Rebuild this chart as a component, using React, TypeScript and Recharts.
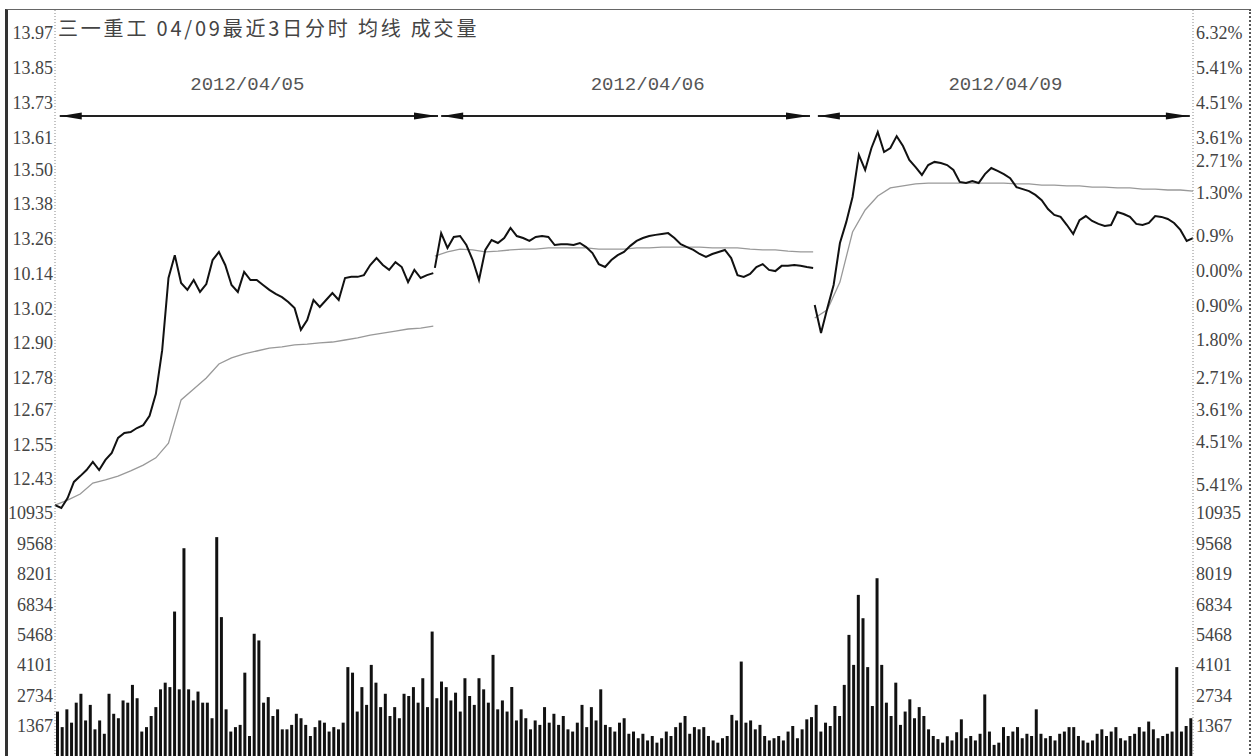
import { ComposedChart, Line, Bar, XAxis, YAxis, ReferenceLine, ReferenceDot } from 'recharts';

const title = '三一重工 04/09最近3日分时 均线 成交量';
const dayLabels = ['2012/04/05', '2012/04/06', '2012/04/09'];

// price every 4 minutes, average every 8 minutes, volume every 3 minutes
const day1Price = [
  12.340, 12.330, 12.364, 12.420, 12.440, 12.461, 12.489, 12.461, 12.496, 12.520,
  12.572, 12.589, 12.592, 12.606, 12.616, 12.648, 12.724, 12.875, 13.124, 13.203,
  13.107, 13.083, 13.117, 13.076, 13.103, 13.186, 13.214, 13.169, 13.100, 13.076,
  13.145, 13.117, 13.117, 13.100, 13.083, 13.069, 13.058, 13.041, 13.020, 12.945,
  12.979, 13.048, 13.024, 13.048, 13.072, 13.048, 13.124, 13.128, 13.128, 13.134,
  13.169, 13.193, 13.169, 13.152, 13.179, 13.162, 13.110, 13.152, 13.124, 13.134,
  13.141,
];
const day2Price = [
  13.159, 13.279, 13.228, 13.266, 13.269, 13.238, 13.186, 13.117, 13.221, 13.255,
  13.245, 13.262, 13.297, 13.269, 13.262, 13.252, 13.266, 13.269, 13.266, 13.238,
  13.241, 13.241, 13.238, 13.245, 13.231, 13.210, 13.172, 13.162, 13.186, 13.203,
  13.214, 13.235, 13.252, 13.262, 13.269, 13.273, 13.276, 13.279, 13.262, 13.241,
  13.231, 13.221, 13.207, 13.197, 13.207, 13.214, 13.221, 13.193, 13.134, 13.128,
  13.138, 13.162, 13.172, 13.152, 13.148, 13.166, 13.166, 13.169, 13.166, 13.162,
  13.159,
];
const day3Price = [
  13.031, 12.934, 13.020, 13.100, 13.245, 13.317, 13.404, 13.549, 13.497, 13.573,
  13.628, 13.559, 13.573, 13.614, 13.580, 13.532, 13.507, 13.480, 13.514, 13.525,
  13.521, 13.514, 13.497, 13.456, 13.452, 13.459, 13.452, 13.483, 13.504, 13.494,
  13.483, 13.469, 13.438, 13.431, 13.424, 13.411, 13.393, 13.362, 13.342, 13.335,
  13.307, 13.276, 13.324, 13.338, 13.321, 13.311, 13.304, 13.307, 13.352, 13.345,
  13.335, 13.311, 13.307, 13.314, 13.338, 13.335, 13.328, 13.314, 13.290, 13.252,
  13.262,
];

const day1Avg = [
  12.340, 12.357, 12.378, 12.416, 12.427, 12.440, 12.458, 12.478, 12.503, 12.554,
  12.703, 12.741, 12.779, 12.827, 12.848, 12.862, 12.872, 12.882, 12.886, 12.893,
  12.896, 12.900, 12.903, 12.910, 12.917, 12.927, 12.934, 12.941, 12.948, 12.951,
  12.958,
];
const day2Avg = [
  13.200, 13.214, 13.224, 13.221, 13.214, 13.217, 13.221, 13.224, 13.224, 13.228,
  13.228, 13.228, 13.228, 13.224, 13.224, 13.224, 13.228, 13.228, 13.231, 13.231,
  13.231, 13.231, 13.228, 13.228, 13.228, 13.224, 13.221, 13.221, 13.217, 13.214,
  13.214,
];
const day3Avg = [
  12.986, 13.014, 13.110, 13.283, 13.359, 13.407, 13.435, 13.442, 13.449, 13.452,
  13.452, 13.452, 13.452, 13.452, 13.452, 13.452, 13.449, 13.449, 13.445, 13.445,
  13.442, 13.442, 13.438, 13.438, 13.435, 13.435, 13.431, 13.431, 13.428, 13.428,
  13.424,
];

const day1Vol = [
  2000, 1300, 2100, 1500, 2400, 2800, 1600, 2300, 1200, 1600,
  1000, 2800, 1900, 1700, 2500, 2400, 3200, 2600, 1100, 1300,
  1800, 2200, 3000, 3300, 3100, 6500, 3000, 9350, 3000, 2500,
  2900, 2400, 2400, 1700, 9850, 6250, 2100, 1100, 1300, 1400,
  3750, 900, 5500, 5200, 2400, 2650, 1800, 2100, 1200, 1200,
  1400, 1900, 1700, 1400, 900, 1300, 1600, 1500, 1100, 1300,
  1200, 1500, 4000, 3750, 2000, 3100, 2300, 4100, 3300, 2200,
  2800, 1800, 2200, 1700, 2800, 2700, 3100, 2400, 3500, 2200,
  5600,
];
const day2Vol = [
  2600, 3350, 3100, 2500, 2850, 2000, 3500, 2700, 2300, 3500,
  3000, 2400, 4550, 2100, 2500, 2000, 3100, 1600, 2100, 1700,
  1200, 1600, 1400, 2200, 1500, 1900, 1400, 1800, 1200, 1100,
  1500, 2300, 1300, 2200, 1600, 3000, 1400, 1300, 1100, 1500,
  1700, 1000, 1100, 800, 1000, 700, 900, 600, 800, 1100,
  900, 1300, 1500, 1800, 1000, 1300, 1200, 1300, 900, 700,
  600, 800, 900, 1850, 1600, 4250, 1500, 1600, 1200, 1400,
  900, 700, 800, 900, 700, 1100, 1350, 800, 1200, 1650,
  1750,
];
const day3Vol = [
  2300, 1100, 1500, 1350, 2250, 1800, 3200, 5450, 4100, 7250,
  6200, 4000, 2250, 8000, 4100, 2400, 1800, 3300, 1400, 2000,
  2550, 1700, 2200, 1800, 1200, 900, 760, 600, 890, 700,
  1070, 1650, 800, 900, 700, 1000, 2770, 1100, 500, 600,
  1300, 900, 1100, 1300, 800, 1000, 900, 2100, 1000, 800,
  900, 700, 1000, 1100, 1300, 1300, 900, 700, 600, 700,
  1000, 1200, 900, 1100, 1300, 800, 700, 900, 1000, 1300,
  1100, 1550, 1200, 800, 900, 1000, 1100, 4000, 1100, 1350,
  1700,
];

const priceTicks = [13.97, 13.85, 13.73, 13.61, 13.50, 13.38, 13.26, 13.14, 13.02, 12.90, 12.78, 12.67, 12.55, 12.43];
const priceLabels = ['13.97', '13.85', '13.73', '13.61', '13.50', '13.38', '13.26', '10.14', '13.02', '12.90', '12.78', '12.67', '12.55', '12.43'];
const pctTicks = [13.97, 13.85, 13.73, 13.61, 13.53, 13.42, 13.27, 13.15, 13.03, 12.91, 12.78, 12.67, 12.56, 12.41];
const pctLabels = ['6.32%', '5.41%', '4.51%', '3.61%', '2.71%', '1.30%', '0.9%', '0.00%', '0.90%', '1.80%', '2.71%', '3.61%', '4.51%', '5.41%'];
const volTicks = [10935, 9568, 8201, 6834, 5468, 4101, 2734, 1367];
const volLabelsLeft = ['10935', '9568', '8201', '6834', '5468', '4101', '2734', '1367'];
const volLabelsRight = ['10935', '9568', '8019', '6834', '5468', '4101', '2734', '1367'];

// arrow spans and date label spots, in minutes / price
const arrowSpans = [[3, 243], [245, 479], [484, 720]];
const dateSpots = [122, 376, 603];
const arrowPrice = 13.6835;
const datePrice = 13.79;

const MIN_PER_DAY = 241;
const priceDomain = [12.3126, 14.0495];

const prices = [day1Price, day2Price, day3Price];
const avgs = [day1Avg, day2Avg, day3Avg];
const vols = [day1Vol, day2Vol, day3Vol];

const priceRows: any[] = [];
prices.forEach((arr, d) => {
  arr.forEach((v, k) => {
    const row: any = { t: d * MIN_PER_DAY + k * 4 };
    row['p' + d] = v;
    if (k % 2 === 0) row['a' + d] = avgs[d][k / 2];
    priceRows.push(row);
  });
});

const volRows: any[] = [];
vols.forEach((arr, d) => {
  arr.forEach((v, k) => volRows.push({ t: d * MIN_PER_DAY + k * 3, v }));
});

const tickStyle = { fontFamily: 'Liberation Serif', fontSize: 18, fill: '#444' };
const dotAxis = { stroke: '#888', strokeDasharray: '1 2' };

const pick = (ticks: number[], labels: string[]) => (v: number) => {
  const i = ticks.indexOf(v);
  return i >= 0 ? labels[i] : '';
};

const Arrow = (props: any) => {
  const { x1, y1, x2 } = props;
  const y = y1;
  return (
    <g>
      <line x1={x1} y1={y} x2={x2} y2={y} stroke="#222" strokeWidth={2} />
      <polygon points={`${x1 + 1},${y} ${x1 + 22},${y - 3.5} ${x1 + 22},${y + 3.5}`} fill="#111" />
      <polygon points={`${x2 - 1},${y} ${x2 - 24},${y - 3.5} ${x2 - 24},${y + 3.5}`} fill="#111" />
    </g>
  );
};

const DateText = (label: string) => (props: any) => (
  <text x={props.cx} y={props.cy} textAnchor="middle" dominantBaseline="central"
    fontFamily="Liberation Mono" fontSize={19} fill="#555">{label}</text>
);

export default function App() {
  return (
    <div style={{ position: 'absolute', left: 0, top: 0, width: 1255, height: 756, overflow: 'hidden', background: '#fff' }}>
      <div style={{ position: 'absolute', left: 5, top: 9, width: 1241, height: 760, borderLeft: '3px solid #333', borderTop: '1px solid #666', borderRight: '2px dotted #555' }} />
      <div style={{ position: 'absolute', left: 58, top: 16, lineHeight: '24px', fontSize: 20, letterSpacing: 2.8, whiteSpace: 'pre', color: '#444', fontFamily: '"Noto Sans CJK SC"' }}>
        {title}
      </div>
      <div style={{ position: 'absolute', left: 0, top: 0 }}>
        <ComposedChart width={1255} height={513} data={priceRows} margin={{ top: 10, right: 0, bottom: 0, left: 0 }}>
          <XAxis type="number" dataKey="t" domain={[0, 722]} hide />
          <YAxis yAxisId="price" domain={priceDomain} ticks={priceTicks} interval={0} width={55}
            tickFormatter={pick(priceTicks, priceLabels)} tick={tickStyle} tickLine={false} tickSize={0} tickMargin={2}
            axisLine={dotAxis} allowDataOverflow />
          <YAxis yAxisId="pct" orientation="right" domain={priceDomain} ticks={pctTicks} interval={0} width={62}
            tickFormatter={pick(pctTicks, pctLabels)} tick={tickStyle} tickLine={false} tickSize={0} tickMargin={3}
            axisLine={dotAxis} allowDataOverflow />
          {[0, 1, 2].map((d) => (
            <Line key={'a' + d} yAxisId="price" type="linear" dataKey={'a' + d} stroke="#999" strokeWidth={1.3}
              dot={false} connectNulls isAnimationActive={false} />
          ))}
          {[0, 1, 2].map((d) => (
            <Line key={'p' + d} yAxisId="price" type="linear" dataKey={'p' + d} stroke="#111" strokeWidth={2}
              dot={false} isAnimationActive={false} />
          ))}
          {arrowSpans.map(([a, b], i) => (
            <ReferenceLine key={'ar' + i} yAxisId="price" segment={[{ x: a, y: arrowPrice }, { x: b, y: arrowPrice }]}
              shape={Arrow} ifOverflow="visible" />
          ))}
          {dateSpots.map((t, i) => (
            <ReferenceDot key={'dt' + i} yAxisId="price" x={t} y={datePrice} r={0} shape={DateText(dayLabels[i])} />
          ))}
        </ComposedChart>
      </div>
      <div style={{ position: 'absolute', left: 0, top: 500 }}>
        <ComposedChart width={1255} height={256} data={volRows} margin={{ top: 13, right: 0, bottom: 0, left: 0 }}
          barCategoryGap={1}>
          <XAxis type="category" dataKey="t" hide />
          <YAxis yAxisId="vol" domain={[0, 10935]} ticks={volTicks} interval={0} width={55}
            tickFormatter={pick(volTicks, volLabelsLeft)} tick={tickStyle} tickLine={false} tickSize={0} tickMargin={2}
            axisLine={dotAxis} allowDataOverflow />
          <YAxis yAxisId="volR" orientation="right" domain={[0, 10935]} ticks={volTicks} interval={0} width={62}
            tickFormatter={pick(volTicks, volLabelsRight)} tick={tickStyle} tickLine={false} tickSize={0} tickMargin={3}
            axisLine={dotAxis} allowDataOverflow />
          <Bar yAxisId="vol" dataKey="v" fill="#111" isAnimationActive={false} />
        </ComposedChart>
      </div>
    </div>
  );
}
